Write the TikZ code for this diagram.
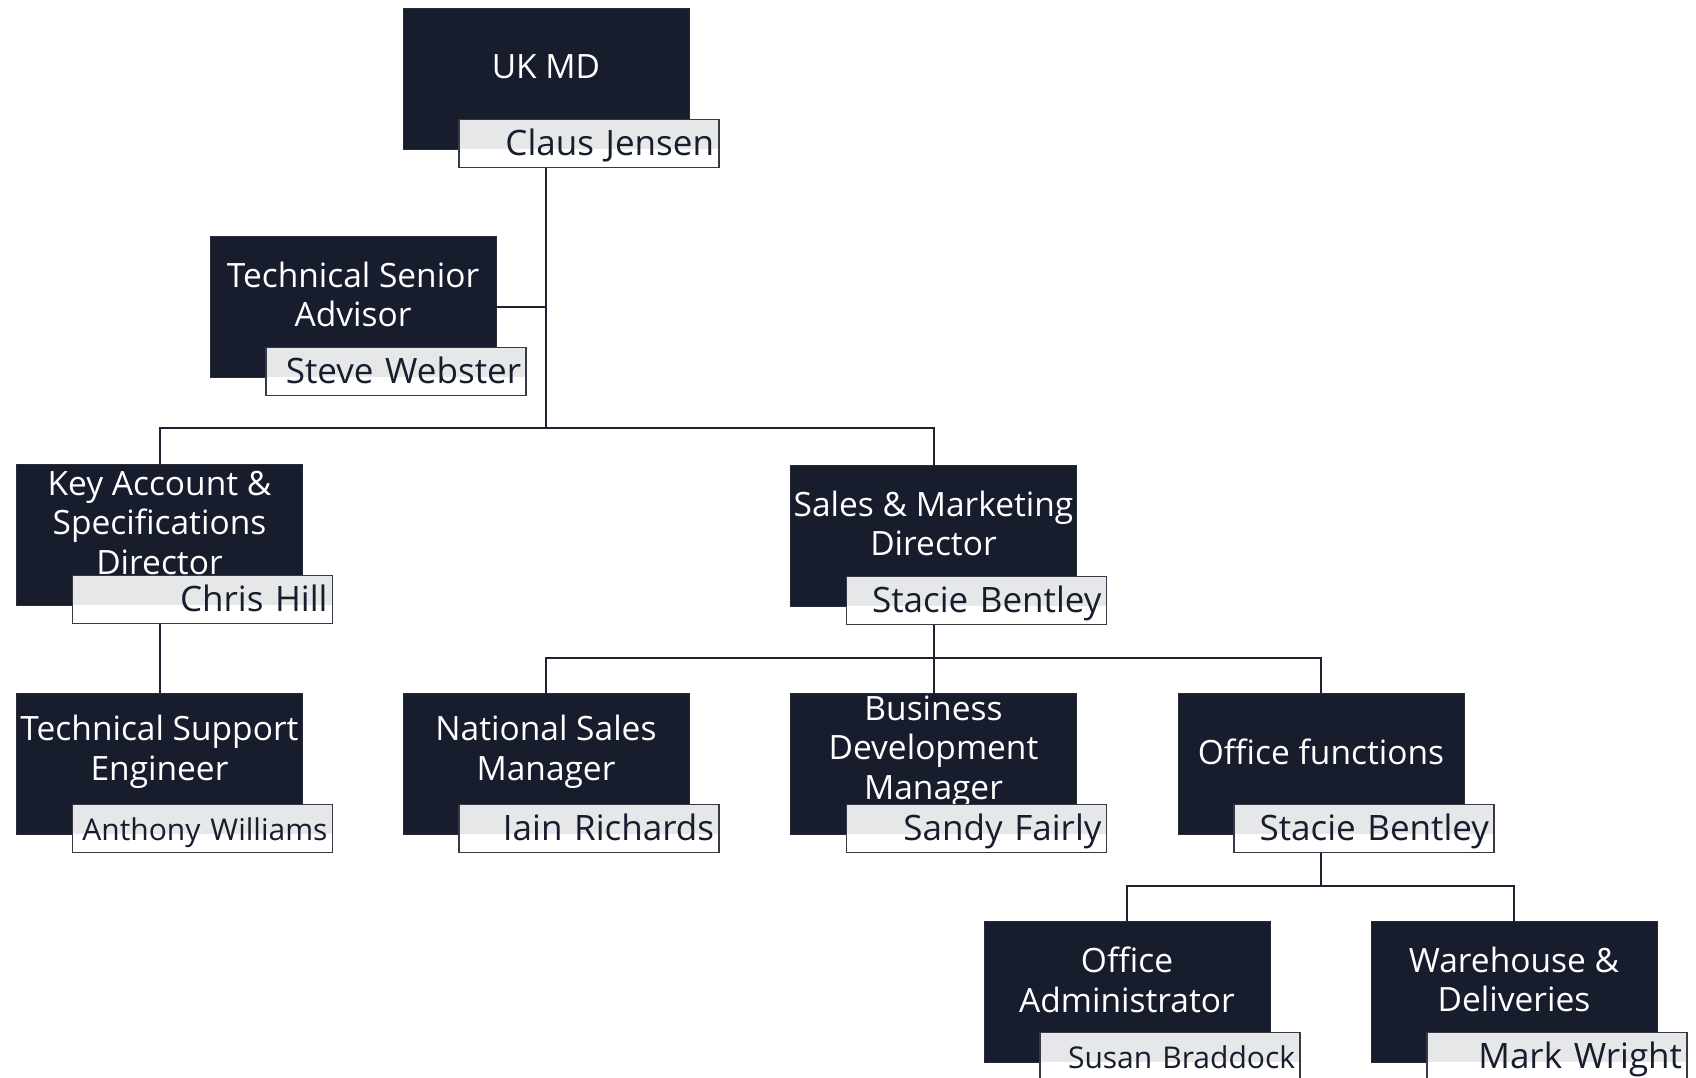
\documentclass[tikz,border=0pt]{standalone}
\usepackage{fontspec}
\setmainfont{Open Sans}
\definecolor{boxnavy}{RGB}{24,29,46}
\definecolor{namegray}{RGB}{230,231,233}
\definecolor{wirecol}{RGB}{30,34,48}
\definecolor{rimcol}{RGB}{55,58,70}
\tikzset{
  role/.style={fill=boxnavy, draw=boxnavy!85!gray, line width=0.8pt,
    minimum width=286pt, minimum height=141pt, inner sep=0pt},
  roletitle/.style={text=white, align=center, inner sep=0pt,
    font=\fontsize{33.5}{39.5}\selectfont},
  who/.style={draw=rimcol, line width=1.6pt, fill=white, text=boxnavy,
    minimum width=260pt, minimum height=48pt, text width=250pt,
    inner xsep=5pt, inner ysep=0pt, align=right,
    text height=28pt, text depth=4pt,
    path picture={\fill[namegray] (path picture bounding box.north west)
      rectangle ([yshift=-30pt]path picture bounding box.north east);}},
  wire/.style={draw=wirecol, line width=2pt}
}
\begin{document}
\begin{tikzpicture}[x=1pt, y=-1pt]
    \useasboundingbox (0,0) rectangle (1696,1077);
    % role boxes: name / centre x / top y / title / person / size
    \foreach \id/\cx/\top/\title/\who/\fs in {
        md/546/8/{UK MD}/{Claus Jensen}/35,
        tsa/353/236/{Technical Senior\\Advisor}/{Steve Webster}/35,
        kad/159.5/464/{Key Account \&\\Specifications\\Director}/{Chris Hill}/35,
        smd/933.5/465/{Sales \& Marketing\\Director}/{Stacie Bentley}/35,
        tse/159.5/693/{Technical Support\\Engineer}/{Anthony Williams}/30,
        nsm/546/693/{National Sales\\Manager}/{Iain Richards}/35,
        bdm/933.5/693/{Business\\Development\\Manager}/{Sandy Fairly}/35,
        ofn/1321/693/{Office functions}/{Stacie Bentley}/35,
        oad/1127/921/{Office\\Administrator}/{Susan Braddock}/30,
        whd/1514/921/{Warehouse \&\\Deliveries}/{Mark Wright}/35} {
        \node[role] (\id) at (\cx,\top+70.5) {};
        \node[roletitle] (\id-t) at ([yshift=-59pt]\id.north) {\title};
        \node[who, font=\fontsize{\fs}{\fs}\selectfont] (\id-n)
            at ([xshift=43pt,yshift=6pt]\id.south) {\who};
    }
    % connectors
    \coordinate (bus1) at (546,428);
    \coordinate (bus2) at (933.5,658);
    \coordinate (bus3) at (1321,886);
    \draw[wire] (md |- md-n.south) -- (bus1);
    \draw[wire] (tsa.east) -- (tsa.east -| md);
    \draw[wire] (kad.north) -- (kad.north |- bus1) -- (smd.north |- bus1) -- (smd.north);
    \draw[wire] (kad |- kad-n.south) -- (tse.north);
    \draw[wire] (smd |- smd-n.south) -- (bus2);
    \draw[wire] (nsm.north) -- (nsm.north |- bus2) -- (ofn.north |- bus2) -- (ofn.north);
    \draw[wire] (bdm.north) -- (bdm.north |- bus2);
    \draw[wire] (ofn |- ofn-n.south) -- (bus3);
    \draw[wire] (oad.north) -- (oad.north |- bus3) -- (whd.north |- bus3) -- (whd.north);
\end{tikzpicture}
\end{document}
